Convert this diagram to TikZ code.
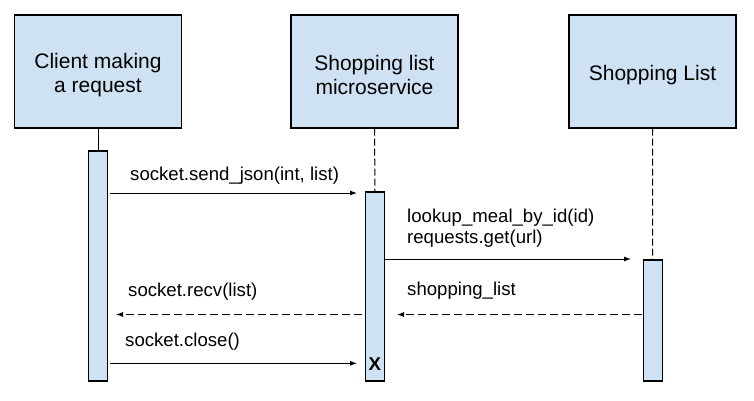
\documentclass[tikz,border=0pt]{standalone}
\usepackage{fontspec}
\setmainfont{Liberation Sans}
\usetikzlibrary{arrows.meta}
\definecolor{boxblue}{HTML}{CFE2F3}
\begin{document}
\begin{tikzpicture}[x=1pt,y=-1pt,
 actor/.style={draw=black, line width=1.3pt, fill=boxblue, minimum width=167pt, minimum height=113pt, inner sep=0pt},
 boxtext/.style={align=center, inner sep=0pt, yshift=-3.5pt, font=\fontsize{21}{24}\selectfont},
 actbar/.style={draw=black, line width=1.1pt, fill=boxblue, minimum width=19pt, inner sep=0pt},
 msg/.style={line width=0.9pt, -{Latex[length=7pt,width=5pt]}},
 reply/.style={msg, dash pattern=on 8pt off 4pt},
 lifeline/.style={line width=1pt},
 dashedlife/.style={lifeline, dash pattern=on 7pt off 3pt},
 lbl/.style={anchor=base west, inner sep=0pt, font=\fontsize{18.6}{22}\selectfont}]
\useasboundingbox (0,0) rectangle (754,400);
% participants
\node[actor, label={[boxtext, name=clientT]center:{Client making\\a request}}] (client) at (98,71.5) {};
\node[actor, label={[boxtext, name=microT]center:{Shopping list\\microservice}}] (micro) at (374.5,71.5) {};
\node[actor, label={[boxtext, name=listT]center:{Shopping List}}] (list) at (652.5,71.5) {};
% activation bars
\node[actbar, minimum height=230pt] (act1) at (98,266) {};
\node[actbar, minimum height=189pt] (act2) at (375,286.5) {};
\node[actbar, minimum height=121pt] (act3) at (652.7,320.5) {};
% lifelines
\draw[lifeline] (client.south) -- (act1.north);
\draw[dashedlife] (micro.south) -- (act2.north);
\draw[dashedlife] (list.south) -- (act3.north);
% message end points
\coordinate (m1s) at (110,193);
\coordinate (m1e) at (357,193);
\coordinate (m2s) at (385,259);
\coordinate (m2e) at (631,259);
\coordinate (m3s) at (642,314.5);
\coordinate (m3e) at (397,314.5);
\coordinate (m4s) at (362,314.5);
\coordinate (m4e) at (116,314.5);
\coordinate (m5s) at (110,363.3);
\coordinate (m5e) at (357,363.3);
% messages
\draw[msg] (m1s) -- (m1e);
\draw[msg] (m2s) -- (m2e);
\draw[reply] (m3s) -- (m3e);
\draw[reply] (m4s) -- (m4e);
\draw[msg] (m5s) -- (m5e);
% labels
\node[lbl] (l1) at (130,180) {socket.send\_json(int, list)};
\node[lbl] (l2a) at (407,222) {lookup\_meal\_by\_id(id)};
\node[lbl] (l2b) at (407,243) {requests.get(url)};
\node[lbl] (l3) at (407,295) {shopping\_list};
\node[lbl] (l4) at (128,296) {socket.recv(list)};
\node[lbl] (l5) at (125,346) {socket.close()};
\node[lbl, font=\fontsize{18.6}{22}\selectfont\bfseries] (xend) at (368.5,370) {X};
\end{tikzpicture}
\end{document}
